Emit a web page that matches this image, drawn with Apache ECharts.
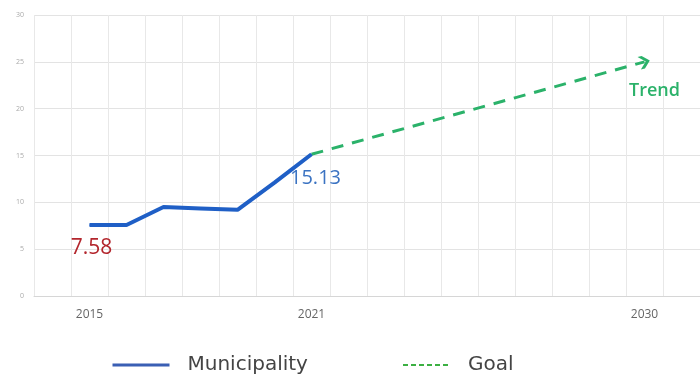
<!DOCTYPE html>
<html>
<head>
<meta charset="utf-8">
<script src="https://cdn.jsdelivr.net/npm/echarts@6/dist/echarts.min.js"></script>
<style>
html,body{margin:0;padding:0;background:#fff;}
#main{width:700px;height:376px;}
</style>
</head>
<body>
<div id="main"></div>
<script>
// years on the axis (one band per year, last band is cut off at the right)
var years = ['2014','2015','2016','2017','2018','2019','2020','2021','2022','2023','2024','2025','2026','2027','2028','2029','2030','2031'];
var shownYears = ['2015','2021','2030'];		// only these get a label
var municipality = [null, 7.58, 7.58, 9.5, 9.35, 9.2, 12.1, 15.13, null, null, null, null, null, null, null, null, null, null];
var goal = [null, null, null, null, null, null, null, 15.13, null, null, null, null, null, null, null, null, 25, null];
var yTicks = [0, 5, 10, 15, 20, 25, 30];

var blue = '#1f5fc6';
var green = '#2bb26a';

var chart = echarts.init(document.getElementById('main'));

// tiny point (hidden under the line) that carries a label
function labelPoint(v, lbl){
	return {
		value: v,
		symbol: 'circle',
		symbolSize: 1,
		label: lbl
	};
}

var muniData = municipality.map(function(v, i){
	if (v == null) return null;
	if (years[i] == '2015') {
		return labelPoint(v, {show: true, position: 'bottom', distance: 12, offset: [2, 0], formatter: '7.58', color: '#b3262d', fontSize: 21, fontFamily: 'Open Sans'});
	}
	if (years[i] == '2021') {
		return labelPoint(v, {show: true, position: 'bottom', distance: 14, offset: [4, 0], formatter: '15.13', color: '#3b73c2', fontSize: 20, fontFamily: 'Open Sans'});
	}
	return v;
});
var goalData = goal.map(function(v, i){
	if (v == null) return null;
	if (years[i] == '2030') {
		return {
			value: v,
			symbol: 'path://M0,0 L5,0 L13,8 L5,16 L0,16 L8,8 Z',
			symbolSize: [11, 13],
			symbolRotate: 15,
			itemStyle: {color: green},
			label: {show: true, position: 'bottom', distance: 12, offset: [10, 0], formatter: 'Trend', color: green, fontSize: 18, fontWeight: 600, fontFamily: 'Open Sans'}
		};
	}
	return v;
});

var option = {
	animation: false,
	grid: {left: 34, right: -8.5, top: 15, bottom: 80, containLabel: false},
	legend: [
		{
			left: 111, top: 355, padding: 0,
			itemWidth: 57, itemHeight: 12,
			data: ['Municipality'],
			itemStyle: {opacity: 0},
			lineStyle: {color: '#3a5fb4', width: 3},
			textStyle: {fontSize: 20, color: '#444', fontFamily: 'DejaVu Sans', padding: [0, 0, 0, 13]}
		},
		{
			left: 402, top: 355, padding: 0,
			itemWidth: 48, itemHeight: 12,
			data: ['Goal'],
			itemStyle: {opacity: 0},
			lineStyle: {color: '#3cb043', width: 2, type: [5, 3]},
			textStyle: {fontSize: 20, color: '#444', fontFamily: 'DejaVu Sans', padding: [0, 0, 0, 12]}
		}
	],
	xAxis: {
		type: 'category',
		data: years,
		boundaryGap: true,
		axisLine: {show: true, lineStyle: {color: '#d6d6d6'}},
		axisTick: {show: false},
		splitLine: {show: true, interval: 0, lineStyle: {color: '#e8e8e8'}},
		axisLabel: {
			interval: 0,
			margin: 13,
			color: '#666',
			fontSize: 12,
			fontFamily: 'Open Sans',
			formatter: function(v){ return shownYears.indexOf(v) >= 0 ? v : ''; }
		}
	},
	yAxis: {
		type: 'value',
		min: yTicks[0],
		max: yTicks[yTicks.length - 1],
		interval: 5,
		axisLine: {show: false},
		axisTick: {show: false},
		splitLine: {lineStyle: {color: '#e3e3e3'}},
		axisLabel: {margin: 10, color: '#aaa', fontSize: 7, fontFamily: 'Open Sans'}
	},
	series: [
		{
			name: 'Municipality',
			type: 'line',
			data: muniData,
			symbol: 'none',
			lineStyle: {color: blue, width: 4},
			itemStyle: {color: blue},
			z: 3
		},
		{
			name: 'Goal',
			type: 'line',
			data: goalData,
			connectNulls: true,
			symbol: 'none',
			lineStyle: {color: green, width: 3, type: [12, 9]},
			itemStyle: {color: green},
			z: 2
		}
	]
};

chart.setOption(option);
</script>
</body>
</html>
